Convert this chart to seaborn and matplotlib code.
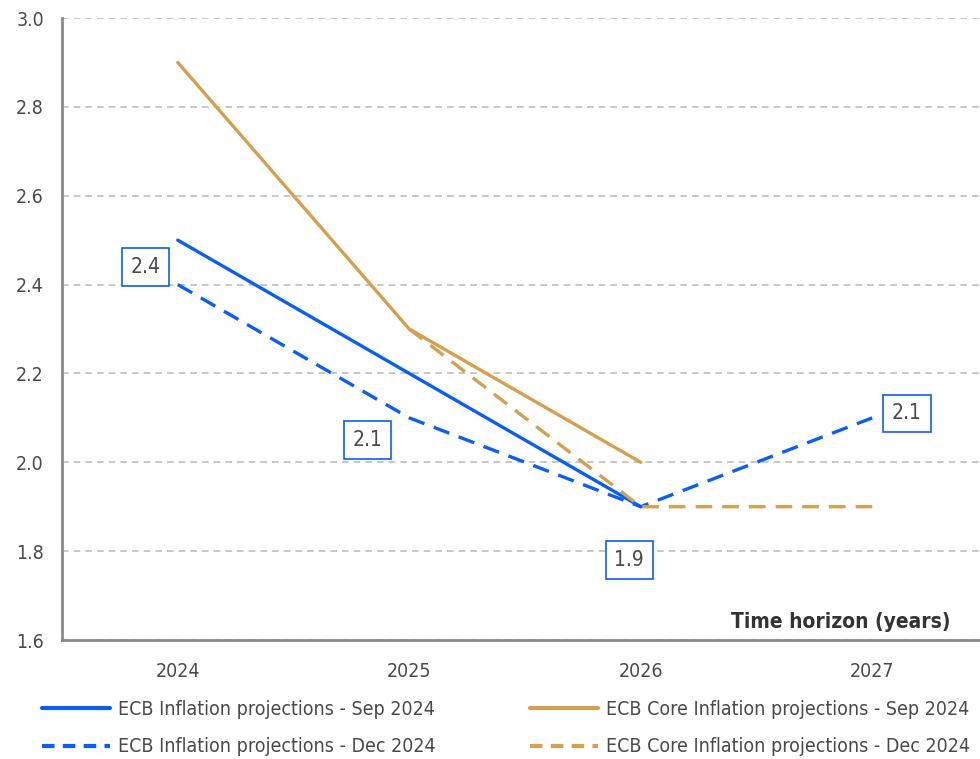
import matplotlib
matplotlib.use("Agg")
import matplotlib.pyplot as plt
import seaborn as sns
import numpy as np
import pandas as pd
from matplotlib.lines import Line2D

years = ["2024", "2025", "2026", "2027"]
infl_sep = [2.5, 2.2, 1.9, np.nan]
infl_dec = [2.4, 2.1, 1.9, 2.1]
core_sep = [2.9, 2.3, 2.0, np.nan]
core_dec = [np.nan, 2.3, 1.9, 1.9]

# value labels for the Dec inflation projections
label_vals = [2.4, 2.1, 1.9, 2.1]
label_pos = [(-0.14, 2.44), (0.82, 2.05), (1.95, 1.78), (3.15, 2.11)]

BLUE = "#0a5ef2"
GOLD = "#d4a04f"
TEXT = "#4a4a4a"
AXIS = "#8a8a8a"
FS = 14

sns.set_style("white")
plt.rcParams["font.family"] = ["DejaVu Sans"]
plt.rcParams["font.stretch"] = "condensed"

fig = plt.figure(figsize=(9.8, 7.59), dpi=100)
ax = fig.add_axes([62 / 980, 1 - 640 / 759, 926 / 980, 622 / 759])

x = np.arange(len(years))
series = [
    (infl_sep, BLUE, "-", "ECB Inflation projections - Sep 2024"),
    (core_sep, GOLD, "-", "ECB Core Inflation projections - Sep 2024"),
    (infl_dec, BLUE, "--", "ECB Inflation projections - Dec 2024"),
    (core_dec, GOLD, "--", "ECB Core Inflation projections - Dec 2024"),
]
for vals, col, ls, name in series:
    df = pd.DataFrame({"x": x, "y": vals}).dropna()
    sns.lineplot(data=df, x="x", y="y", ax=ax, color=col, linewidth=2.4)
    if ls == "--":
        ax.lines[-1].set_dashes((5, 3))

for v, (px, py) in zip(label_vals, label_pos):
    ax.text(px, py, f"{v:.1f}", ha="center", va="center", fontsize=15, color=TEXT,
            bbox=dict(boxstyle="square,pad=0.42", fc="white", ec=BLUE, lw=1.2))

ax.set_xlim(-0.5, 3.5)
ax.set_ylim(1.6, 3.0)
yt = np.arange(1.6, 3.01, 0.2)
ax.set_yticks(yt)
ax.set_yticklabels([f"{t:.1f}" for t in yt])
ax.set_xticks([-0.5, 0.5, 1.5, 2.5])
ax.set_xticklabels([])
ax.set_xticks(x, minor=True)
ax.set_xticklabels(years, minor=True)
ax.tick_params(axis="x", which="minor", length=0, pad=16, labelsize=FS, labelcolor=TEXT)
ax.tick_params(axis="x", which="major", length=6, width=1.5, color=AXIS, direction="out")
ax.tick_params(axis="y", length=6, width=1.5, color=AXIS, labelsize=FS, labelcolor=TEXT, pad=7)
ax.set_xlabel("")
ax.set_ylabel("")
ax.grid(axis="y", color="#bdbdbd", linestyle=(0, (4, 3)), linewidth=1.2)
ax.set_axisbelow(True)
for s in ["top", "right"]:
    ax.spines[s].set_visible(False)
for s in ["left", "bottom"]:
    ax.spines[s].set_color(AXIS)
    ax.spines[s].set_linewidth(2)

fig.text(950 / 980, 1 - 622 / 759, "Time horizon (years)",
         ha="right", va="center", fontsize=15, color="#333333", fontweight="bold")

# one legend per column: inflation on the left, core inflation on the right
for idx, left in [((0, 2), 42), ((1, 3), 530)]:
    handles, names = [], []
    for i in idx:
        _, c, ls, n = series[i]
        h = Line2D([0], [0], color=c, lw=3)
        if ls == "--":
            h.set_dashes((3, 2))
        handles.append(h)
        names.append(n)
    fig.legend(handles, names, loc="upper left",
               bbox_to_anchor=(left / 980, 1 - 700 / 759),
               frameon=False, fontsize=14, labelcolor=TEXT, handlelength=3.5,
               handletextpad=0.4, labelspacing=0.95, borderpad=0, borderaxespad=0)

fig.savefig("out.png", dpi=100)
